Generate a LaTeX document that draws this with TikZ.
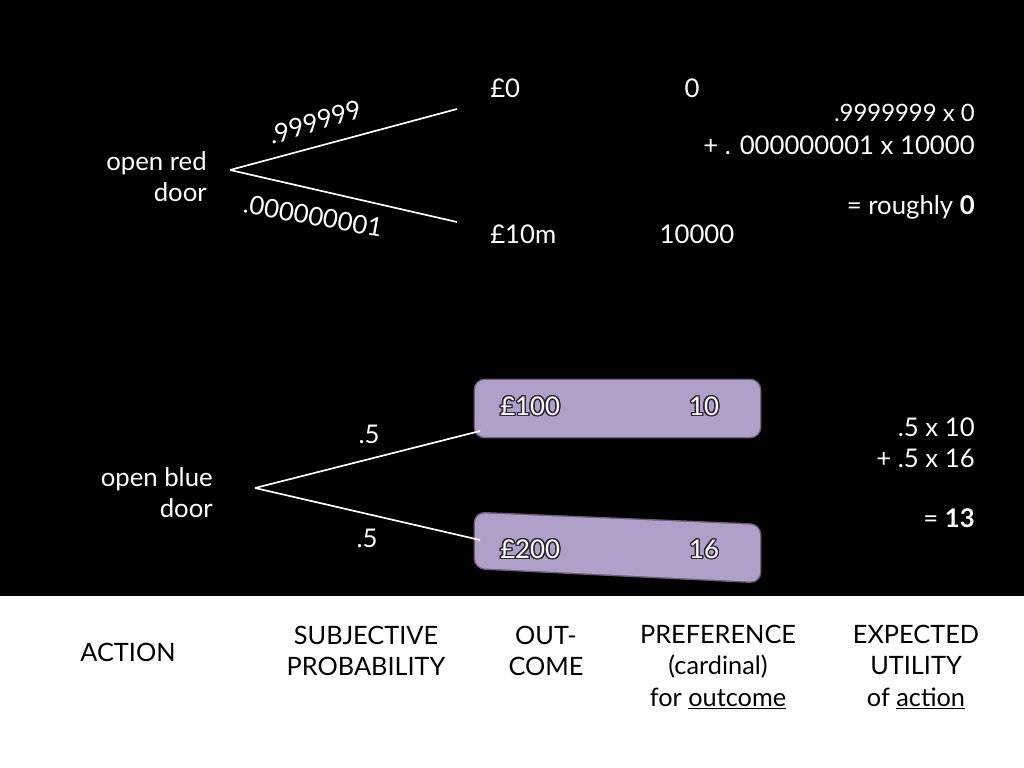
\documentclass[tikz,border=0pt]{standalone}
\usepackage{fontspec}
\setmainfont{Lato}
\usepackage{contour}
\contourlength{1pt}
\usetikzlibrary{positioning}
\definecolor{lilac}{RGB}{176, 159, 200}
\definecolor{outlinedark}{RGB}{45, 38, 55}
\definecolor{captiontext}{RGB}{0, 0, 0}
\tikzset{
    txt/.style={text=white, font=\fontsize{18.3}{22}\selectfont, inner sep=0pt},
    caption/.style={text=captiontext, font=\fontsize{18}{22.5}\selectfont, inner sep=0pt, align=center},
    branch/.style={white, line width=1.2pt},
    lilacbox/.style={fill=lilac, rounded corners=7pt},
    glow/.style={draw=lilac, line width=2pt, opacity=0.6, rounded corners=7pt},
    boxed/.style={txt, text=white}
}

\begin{document}
\begin{tikzpicture}[x=0.025cm, y=-0.025cm]
    \useasboundingbox (0,0) rectangle (1024,768);
    \fill[black] (0,0) rectangle (1024,596);
    \fill[white] (0,596) rectangle (1024,768);

    % highlighted outcomes of the blue door
    \path[glow] (475,380) -- (760,380) -- (760,437) -- (475,437) -- cycle;
    \path[lilacbox] (475,380) -- (760,380) -- (760,437) -- (475,437) -- cycle;
    \path[glow] (475,513) -- (760,525) -- (760,582) -- (475,568) -- cycle;
    \path[lilacbox] (475,513) -- (760,525) -- (760,582) -- (475,568) -- cycle;

    % red door
    \node (red) [txt, anchor=east, align=right] at (207,177) {open red\\door};
    \coordinate (redfork) at (230,170);
    \coordinate (redhi) at (457,109);
    \coordinate (redlo) at (457,222);
    \draw [branch] (redfork) -- (redhi);
    \draw [branch] (redfork) -- (redlo);
    \node (redphi) [txt, rotate=17] at (315,122) {.999999};
    \node (redplo) [txt, rotate=-10] at (313,216) {.000000001};
    \node (redohi) [txt, anchor=west] at (490,88) {£0};
    \node (redolo) [txt, anchor=west] at (490,234) {£10m};
    \node (redufhi) [txt] at (692,88) {0};
    \node (reduflo) [txt] at (697,234) {10000};
    \node (redeua) [txt, anchor=east, font=\fontsize{17}{21}\selectfont] at (975,113) {.9999999 x 0};
    \node (redeub) [txt, anchor=east] at (975,145) {+ . 000000001 x 10000};
    \node (redeuc) [txt, anchor=east] at (975,207) {= roughly \textbf{0}};

    % blue door
    \node (blue) [txt, anchor=east, align=right] at (213,493) {open blue\\door};
    \coordinate (bluefork) at (255,488);
    \coordinate (bluehi) at (480,431);
    \coordinate (bluelo) at (480,540);
    \draw [branch] (bluefork) -- (bluehi);
    \draw [branch] (bluefork) -- (bluelo);
    \node (bluephi) [txt] at (369,434) {.5};
    \node (blueplo) [txt] at (367,538) {.5};
    \node (blueohi) [boxed, anchor=west] at (500,407) {\contour{outlinedark}{£100}};
    \node (blueolo) [boxed, anchor=west] at (500,550) {\contour{outlinedark}{£200}};
    \node (bluufhi) [boxed] at (704,407) {\contour{outlinedark}{10}};
    \node (bluuflo) [boxed] at (704,550) {\contour{outlinedark}{16}};
    \node (blueeua) [txt, anchor=east] at (975,427) {.5 x 10};
    \node (blueeub) [txt, anchor=east] at (975,458) {+ .5 x 16};
    \node (blueeuc) [txt, anchor=east] at (975,518) {= \textbf{13}};

    % column captions
    \node (capaction) [caption] at (128,652) {ACTION};
    \node (capprob) [caption] at (366,651) {SUBJECTIVE\\PROBABILITY};
    \node (capout) [caption] at (546,651) {OUT-\\COME};
    \node (cappref) [caption] at (718,667) {PREFERENCE\\(cardinal)\\for \underline{outcome}};
    \node (capeu) [caption] at (916,667) {EXPECTED\\UTILITY\\of \underline{action}};
\end{tikzpicture}
\end{document}
